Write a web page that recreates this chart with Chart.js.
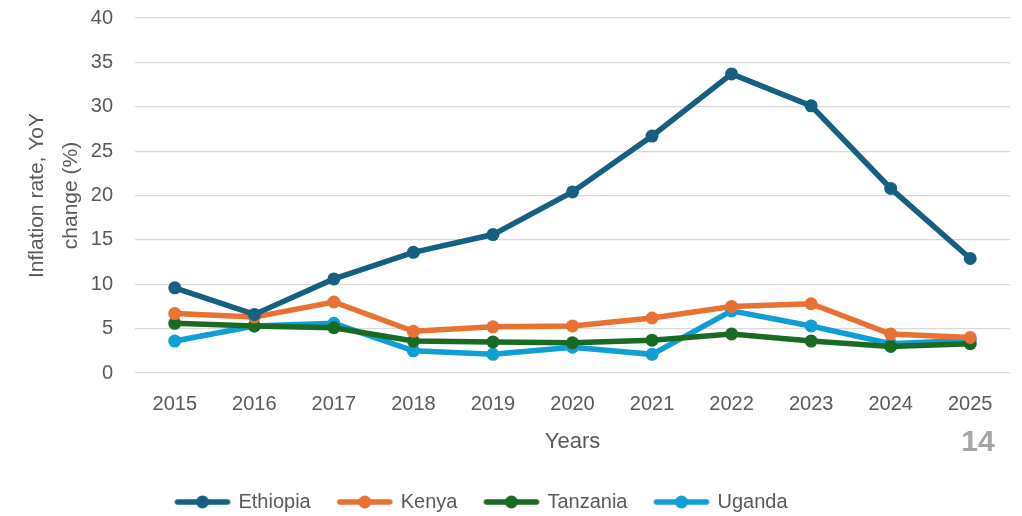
<!DOCTYPE html>
<html>
<head>
<meta charset="utf-8">
<script src="https://cdn.jsdelivr.net/npm/chart.js@4/dist/chart.umd.min.js"></script>
<style>
  html, body { margin: 0; padding: 0; background: #fff; }
  #wrap { width: 1022px; height: 516px; position: relative; }
</style>
</head>
<body>
<div id="wrap"><canvas id="chart" width="1022" height="516"></canvas></div>
<script>
const years = ['2015', '2016', '2017', '2018', '2019', '2020', '2021', '2022', '2023', '2024', '2025'];
const ethiopia = [9.6, 6.6, 10.6, 13.6, 15.6, 20.4, 26.7, 33.7, 30.1, 20.8, 12.9];
const kenya = [6.7, 6.3, 8.0, 4.7, 5.2, 5.3, 6.2, 7.5, 7.8, 4.4, 4.0];
const tanzania = [5.6, 5.3, 5.1, 3.6, 3.5, 3.4, 3.7, 4.4, 3.6, 3.0, 3.3];
const uganda = [3.6, 5.3, 5.6, 2.5, 2.1, 2.9, 2.1, 7.0, 5.3, 3.3, 3.7];

const pageNumber = '14';
const textColor = '#595959';
const font = "'Liberation Sans', Arial, sans-serif";
const colors = ['#156082', '#E97132', '#196B24', '#0F9ED5'];

// line + dot marker for the legend, like the Excel one
function legendIcon(color) {
  const c = document.createElement('canvas');
  c.width = 58;
  c.height = 16;
  const ctx = c.getContext('2d');
  ctx.strokeStyle = color;
  ctx.lineWidth = 5.5;
  ctx.lineCap = 'round';
  ctx.beginPath();
  ctx.moveTo(4, 8);
  ctx.lineTo(54, 8);
  ctx.stroke();
  ctx.fillStyle = color;
  ctx.beginPath();
  ctx.arc(29, 8, 6.5, 0, Math.PI * 2);
  ctx.fill();
  return c;
}
const icons = colors.map(legendIcon);

function series(label, data, color) {
  return {
    label,
    data,
    borderColor: color,
    backgroundColor: color,
    borderWidth: 5.5,
    pointStyle: 'circle',
    pointRadius: 6.5,
    pointHoverRadius: 6.5,
    pointBorderWidth: 0,
    tension: 0,
  };
}

const pageNumberPlugin = {
  id: 'pageNumber',
  afterLayout(chart) {
    // move legend to where it sits in the original
    const lg = chart.legend;
    lg.left -= 23;
    lg.right -= 23;
    lg.top += 6;
    lg.bottom += 6;
  },
  afterDraw(chart) {
    const ctx = chart.ctx;
    ctx.save();
    ctx.font = `bold 30px ${font}`;
    ctx.fillStyle = '#a6a6a6';
    ctx.textAlign = 'center';
    ctx.textBaseline = 'middle';
    ctx.fillText(pageNumber, 978, 443);
    ctx.restore();
  },
};

new Chart(document.getElementById('chart'), {
  type: 'line',
  data: {
    labels: years,
    datasets: [
      series('Ethiopia', ethiopia, colors[0]),
      series('Kenya', kenya, colors[1]),
      series('Tanzania', tanzania, colors[2]),
      series('Uganda', uganda, colors[3]),
    ],
  },
  options: {
    responsive: false,
    animation: false,
    layout: { padding: { top: 18, right: 12, bottom: 0, left: 0 } },
    plugins: {
      legend: {
        position: 'bottom',
        labels: {
          usePointStyle: true,
          pointStyleWidth: 52,
          boxHeight: 14,
          color: textColor,
          font: { family: font, size: 20 },
          padding: 28,
          generateLabels(chart) {
            const items = Chart.defaults.plugins.legend.labels.generateLabels(chart);
            items.forEach((item) => { item.pointStyle = icons[item.datasetIndex]; });
            return items;
          },
        },
      },
      tooltip: { enabled: false },
    },
    scales: {
      x: {
        offset: true,
        grid: { display: false, drawTicks: false },
        border: { display: false },
        ticks: { color: textColor, font: { family: font, size: 20 }, padding: 19, maxRotation: 0 },
        title: {
          display: true,
          text: 'Years',
          color: textColor,
          font: { family: font, size: 22 },
          padding: { top: 0, bottom: 3 },
        },
        afterFit(scale) {
          scale.height = 85;
        },
      },
      y: {
        min: 0,
        max: 40,
        ticks: { stepSize: 5, color: textColor, font: { family: font, size: 20 }, padding: 22 },
        grid: { color: '#d9d9d9', lineWidth: 1.2, drawTicks: false },
        border: { display: false },
        title: {
          display: true,
          text: ['Inflation rate, YoY', 'change (%)'],
          color: textColor,
          font: { family: font, size: 21, lineHeight: '34px' },
          padding: { top: 20, bottom: 0 },
        },
        afterFit(scale) {
          scale.width = 135;
          scale.paddingTop = 0;
          scale.paddingBottom = 0;
        },
      },
    },
  },
  plugins: [pageNumberPlugin],
});
</script>
</body>
</html>
